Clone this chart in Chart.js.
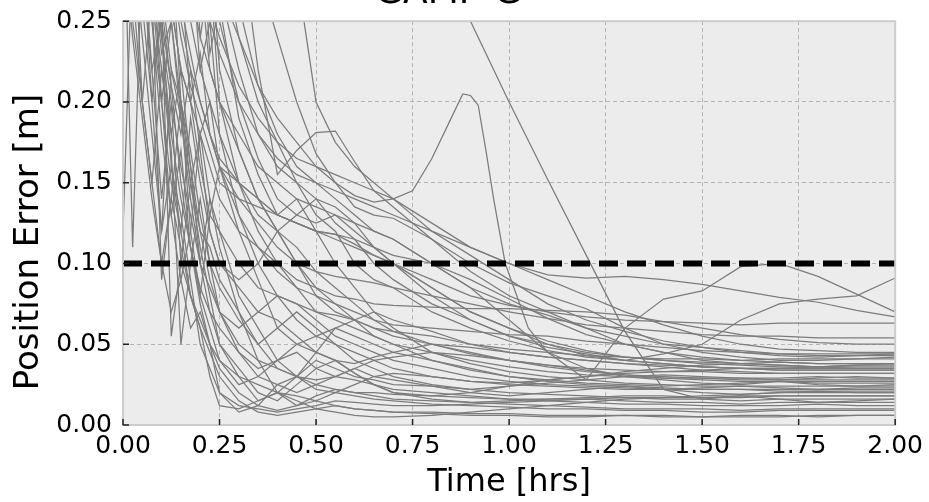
<!DOCTYPE html>
<html>
<head>
<meta charset="utf-8">
<script src="https://cdn.jsdelivr.net/npm/chart.js@4/dist/chart.umd.min.js"></script>
<style>
  html, body { margin: 0; padding: 0; background: #fff; overflow: hidden; }
  #wrap { position: relative; width: 929px; height: 502px; overflow: hidden; }
  #errChart { position: absolute; left: 0; top: -28px; }
</style>
</head>
<body>
<div id="wrap"><canvas id="errChart" width="929" height="530"></canvas></div>
<script>
// time grid shared by most runs [hrs]
const times = [0, 0.025, 0.05, 0.075, 0.1, 0.125, 0.15, 0.175, 0.2, 0.225, 0.25,
    0.3, 0.35, 0.4, 0.45, 0.5, 0.55, 0.6, 0.65, 0.7, 0.8,
    0.9, 1.0, 1.1, 1.2, 1.3, 1.4, 1.5, 1.6, 1.7, 1.8, 1.9, 2.0]

// the run with the late peak has its own, finer sampling
const timesB = [0, 0.05, 0.1, 0.15, 0.2, 0.25, 0.3, 0.35, 0.4, 0.45, 0.5, 0.55, 0.6, 0.65, 0.7,
    0.75, 0.8, 0.85, 0.88, 0.9, 0.92, 0.94, 0.96, 0.99, 1.05, 1.1, 1.2, 1.3, 1.4, 1.5, 1.6, 1.7, 1.8, 1.9, 2.0]

const threshold = 0.1
const xTicks = [0, 0.25, 0.5, 0.75, 1.0, 1.25, 1.5, 1.75, 2.0]
const yTicks = [0, 0.05, 0.1, 0.15, 0.2, 0.25]
const yTitle = 'Position Error [m]'

// position error per run [m]
const runA = [0.6, 0.6, 0.58, 0.57, 0.55, 0.54, 0.52, 0.5, 0.49, 0.48, 0.47,
    0.45, 0.43, 0.42, 0.4, 0.39, 0.38, 0.36, 0.35, 0.34, 0.31,
    0.25, 0.2, 0.152, 0.105, 0.058, 0.022, 0.016, 0.018, 0.016, 0.014, 0.015, 0.016]
const runB = [0.5, 0.45, 0.38, 0.33, 0.3, 0.27, 0.24, 0.21, 0.19, 0.175, 0.16, 0.15, 0.142, 0.138, 0.14,
    0.145, 0.165, 0.19, 0.205, 0.204, 0.198, 0.17, 0.14, 0.1, 0.06, 0.045, 0.035, 0.03, 0.028, 0.026,
    0.025, 0.027, 0.025, 0.024, 0.025]
const runC = [0.7, 0.66, 0.63, 0.6, 0.57, 0.55, 0.52, 0.5, 0.48, 0.46, 0.44,
    0.4, 0.36, 0.32, 0.28, 0.2, 0.175, 0.16, 0.15, 0.14, 0.12,
    0.105, 0.09, 0.075, 0.065, 0.058, 0.052, 0.048, 0.045, 0.043, 0.042, 0.043, 0.044]
const runD = [0.6, 0.56, 0.52, 0.5, 0.47, 0.45, 0.43, 0.41, 0.39, 0.37, 0.35,
    0.32, 0.28, 0.24, 0.2, 0.168, 0.15, 0.135, 0.13, 0.128, 0.115,
    0.095, 0.08, 0.07, 0.06, 0.05, 0.045, 0.04, 0.038, 0.037, 0.036, 0.037, 0.038]
const runE = [0.6, 0.55, 0.52, 0.48, 0.45, 0.42, 0.4, 0.38, 0.36, 0.34, 0.33,
    0.31, 0.22, 0.155, 0.17, 0.181, 0.182, 0.163, 0.145, 0.135, 0.115,
    0.1, 0.088, 0.08, 0.072, 0.06, 0.05, 0.045, 0.042, 0.04, 0.04, 0.041, 0.042]
const runF = [0.6, 0.5, 0.54, 0.42, 0.46, 0.36, 0.38, 0.3, 0.32, 0.26, 0.24,
    0.21, 0.19, 0.175, 0.165, 0.16, 0.155, 0.15, 0.145, 0.14, 0.125,
    0.11, 0.1, 0.093, 0.091, 0.092, 0.09, 0.087, 0.083, 0.079, 0.076, 0.071, 0.067]
const runG = [0.55, 0.42, 0.48, 0.36, 0.4, 0.3, 0.33, 0.26, 0.28, 0.22, 0.2,
    0.18, 0.16, 0.15, 0.14, 0.135, 0.13, 0.125, 0.12, 0.115, 0.1,
    0.085, 0.065, 0.045, 0.028, 0.06, 0.078, 0.083, 0.098, 0.1, 0.092, 0.081, 0.07]
const runH = [0.5, 0.38, 0.44, 0.3, 0.34, 0.25, 0.28, 0.2, 0.23, 0.18, 0.165,
    0.15, 0.14, 0.13, 0.125, 0.12, 0.118, 0.112, 0.105, 0.1, 0.085,
    0.07, 0.06, 0.05, 0.043, 0.04, 0.044, 0.05, 0.065, 0.075, 0.078, 0.08, 0.091]
const run09 = [0.35, 0.11, 0.3, 0.22, 0.14, 0.2, 0.1, 0.08, 0.06, 0.03, 0.012,
    0.01, 0.015, 0.02, 0.018, 0.015, 0.012, 0.01, 0.009, 0.008, 0.007,
    0.006, 0.006, 0.005, 0.005, 0.006, 0.005, 0.005, 0.006, 0.006, 0.005, 0.006, 0.006]
const run10 = [0.4, 0.3, 0.26, 0.2, 0.12, 0.16, 0.13, 0.09, 0.05, 0.035, 0.02,
    0.008, 0.012, 0.025, 0.03, 0.022, 0.02, 0.018, 0.016, 0.015, 0.013,
    0.012, 0.011, 0.01, 0.01, 0.009, 0.009, 0.008, 0.008, 0.009, 0.009, 0.009, 0.009]
const run11 = [0.45, 0.32, 0.2, 0.27, 0.09, 0.14, 0.2, 0.12, 0.08, 0.06, 0.04,
    0.025, 0.03, 0.04, 0.045, 0.035, 0.03, 0.028, 0.025, 0.022, 0.02,
    0.018, 0.016, 0.015, 0.014, 0.013, 0.013, 0.012, 0.012, 0.012, 0.013, 0.012, 0.012]
const run12 = [0.5, 0.4, 0.3, 0.2, 0.26, 0.055, 0.1, 0.15, 0.11, 0.08, 0.05,
    0.03, 0.015, 0.02, 0.03, 0.04, 0.035, 0.03, 0.028, 0.025, 0.024,
    0.022, 0.02, 0.019, 0.018, 0.017, 0.016, 0.016, 0.015, 0.016, 0.016, 0.016, 0.016]
const run13 = [0.3, 0.27, 0.2, 0.15, 0.22, 0.17, 0.05, 0.1, 0.14, 0.1, 0.07,
    0.045, 0.03, 0.025, 0.02, 0.025, 0.03, 0.035, 0.03, 0.028, 0.024,
    0.02, 0.018, 0.02, 0.022, 0.024, 0.022, 0.02, 0.019, 0.02, 0.021, 0.02, 0.02]
const run14 = [0.45, 0.38, 0.31, 0.25, 0.2, 0.13, 0.09, 0.12, 0.18, 0.14, 0.11,
    0.07, 0.04, 0.02, 0.012, 0.015, 0.02, 0.025, 0.03, 0.032, 0.03,
    0.027, 0.025, 0.024, 0.023, 0.022, 0.022, 0.023, 0.024, 0.023, 0.022, 0.023, 0.023]
const run15 = [0.6, 0.5, 0.4, 0.3, 0.24, 0.18, 0.22, 0.16, 0.1, 0.14, 0.12,
    0.08, 0.06, 0.04, 0.03, 0.045, 0.06, 0.055, 0.05, 0.045, 0.04,
    0.035, 0.03, 0.028, 0.026, 0.025, 0.024, 0.025, 0.026, 0.027, 0.026, 0.026, 0.026]
const run16 = [0.5, 0.45, 0.35, 0.3, 0.25, 0.21, 0.15, 0.11, 0.08, 0.13, 0.16,
    0.12, 0.09, 0.06, 0.05, 0.055, 0.05, 0.04, 0.035, 0.03, 0.025,
    0.022, 0.024, 0.026, 0.028, 0.03, 0.031, 0.03, 0.029, 0.028, 0.029, 0.03, 0.029]
const run17 = [0.35, 0.3, 0.24, 0.18, 0.12, 0.22, 0.19, 0.14, 0.1, 0.07, 0.05,
    0.035, 0.02, 0.015, 0.025, 0.035, 0.04, 0.038, 0.042, 0.045, 0.05,
    0.048, 0.045, 0.042, 0.04, 0.038, 0.036, 0.034, 0.033, 0.032, 0.032, 0.032, 0.032]
const run18 = [0.55, 0.45, 0.38, 0.3, 0.2, 0.25, 0.2, 0.17, 0.13, 0.1, 0.085,
    0.065, 0.05, 0.06, 0.07, 0.06, 0.05, 0.045, 0.04, 0.035, 0.03,
    0.027, 0.026, 0.028, 0.03, 0.032, 0.033, 0.034, 0.035, 0.035, 0.036, 0.035, 0.035]
const run19 = [0.4, 0.35, 0.28, 0.22, 0.25, 0.16, 0.12, 0.19, 0.15, 0.12, 0.1,
    0.085, 0.07, 0.065, 0.055, 0.045, 0.04, 0.032, 0.025, 0.02, 0.018,
    0.02, 0.024, 0.028, 0.03, 0.033, 0.035, 0.037, 0.038, 0.039, 0.038, 0.038, 0.038]
const run20 = [0.6, 0.52, 0.45, 0.38, 0.3, 0.26, 0.22, 0.2, 0.16, 0.13, 0.12,
    0.1, 0.085, 0.08, 0.075, 0.07, 0.068, 0.065, 0.06, 0.058, 0.055,
    0.05, 0.047, 0.045, 0.043, 0.042, 0.041, 0.041, 0.04, 0.041, 0.041, 0.041, 0.041]
const run21 = [0.5, 0.42, 0.36, 0.3, 0.27, 0.22, 0.2, 0.15, 0.18, 0.2, 0.16,
    0.13, 0.11, 0.095, 0.085, 0.08, 0.075, 0.07, 0.065, 0.062, 0.06,
    0.058, 0.056, 0.055, 0.052, 0.05, 0.048, 0.046, 0.045, 0.044, 0.044, 0.044, 0.044]
const run22 = [0.7, 0.6, 0.5, 0.42, 0.35, 0.3, 0.26, 0.23, 0.2, 0.18, 0.16,
    0.14, 0.125, 0.11, 0.1, 0.095, 0.092, 0.09, 0.088, 0.085, 0.08,
    0.075, 0.07, 0.066, 0.062, 0.06, 0.058, 0.056, 0.055, 0.055, 0.054, 0.054, 0.054]
const run23 = [0.65, 0.55, 0.48, 0.4, 0.33, 0.28, 0.24, 0.21, 0.19, 0.17, 0.15,
    0.14, 0.135, 0.13, 0.125, 0.12, 0.115, 0.11, 0.105, 0.1, 0.09,
    0.08, 0.074, 0.07, 0.067, 0.065, 0.064, 0.063, 0.062, 0.063, 0.063, 0.063, 0.063]
const run24 = [0.3, 0.25, 0.2, 0.15, 0.1, 0.07, 0.09, 0.06, 0.07, 0.05, 0.02,
    0.012, 0.01, 0.008, 0.01, 0.012, 0.015, 0.014, 0.013, 0.012, 0.012,
    0.013, 0.014, 0.015, 0.016, 0.015, 0.014, 0.014, 0.013, 0.014, 0.014, 0.014, 0.014]
const run25 = [0.35, 0.28, 0.34, 0.25, 0.18, 0.13, 0.17, 0.11, 0.075, 0.05, 0.035,
    0.02, 0.012, 0.009, 0.012, 0.018, 0.022, 0.02, 0.018, 0.016, 0.015,
    0.014, 0.015, 0.016, 0.017, 0.018, 0.018, 0.017, 0.018, 0.018, 0.018, 0.018, 0.018]
const run26 = [0.5, 0.4, 0.33, 0.27, 0.22, 0.18, 0.14, 0.11, 0.085, 0.07, 0.06,
    0.045, 0.035, 0.04, 0.05, 0.045, 0.04, 0.032, 0.025, 0.02, 0.016,
    0.014, 0.013, 0.012, 0.011, 0.01, 0.01, 0.01, 0.009, 0.01, 0.01, 0.01, 0.01]
const run27 = [0.6, 0.55, 0.5, 0.45, 0.4, 0.35, 0.3, 0.27, 0.24, 0.22, 0.2,
    0.17, 0.14, 0.12, 0.1, 0.085, 0.075, 0.065, 0.06, 0.055, 0.05,
    0.045, 0.04, 0.037, 0.034, 0.031, 0.029, 0.028, 0.027, 0.027, 0.027, 0.027, 0.027]
const run28 = [0.55, 0.5, 0.44, 0.4, 0.34, 0.3, 0.27, 0.25, 0.22, 0.2, 0.18,
    0.15, 0.13, 0.12, 0.13, 0.14, 0.135, 0.125, 0.11, 0.1, 0.08,
    0.065, 0.055, 0.048, 0.044, 0.04, 0.038, 0.036, 0.035, 0.035, 0.035, 0.035, 0.035]
const run29 = [0.65, 0.6, 0.52, 0.46, 0.4, 0.36, 0.32, 0.3, 0.27, 0.25, 0.23,
    0.2, 0.18, 0.165, 0.155, 0.15, 0.145, 0.14, 0.135, 0.13, 0.12,
    0.11, 0.1, 0.09, 0.08, 0.07, 0.062, 0.055, 0.05, 0.047, 0.046, 0.045, 0.045]
const run30 = [0.4, 0.34, 0.28, 0.3, 0.24, 0.2, 0.16, 0.13, 0.1, 0.085, 0.07,
    0.06, 0.07, 0.08, 0.075, 0.065, 0.055, 0.05, 0.045, 0.04, 0.035,
    0.03, 0.027, 0.025, 0.024, 0.023, 0.022, 0.022, 0.022, 0.022, 0.022, 0.022, 0.022]
const run31 = [0.45, 0.38, 0.3, 0.33, 0.26, 0.21, 0.18, 0.22, 0.17, 0.12, 0.1,
    0.09, 0.1, 0.12, 0.1, 0.08, 0.07, 0.065, 0.055, 0.05, 0.045,
    0.04, 0.036, 0.033, 0.031, 0.03, 0.029, 0.029, 0.029, 0.029, 0.03, 0.029, 0.029]
const run32 = [0.5, 0.42, 0.36, 0.29, 0.23, 0.25, 0.19, 0.15, 0.12, 0.11, 0.09,
    0.07, 0.05, 0.035, 0.03, 0.028, 0.03, 0.035, 0.04, 0.042, 0.045,
    0.043, 0.04, 0.037, 0.035, 0.034, 0.033, 0.033, 0.032, 0.032, 0.032, 0.032, 0.032]
const run33 = [0.3, 0.24, 0.19, 0.14, 0.1, 0.14, 0.11, 0.08, 0.065, 0.05, 0.04,
    0.03, 0.025, 0.02, 0.015, 0.01, 0.008, 0.006, 0.005, 0.005, 0.006,
    0.008, 0.01, 0.012, 0.014, 0.016, 0.017, 0.018, 0.019, 0.02, 0.02, 0.02, 0.02]
const run34 = [0.6, 0.5, 0.45, 0.38, 0.32, 0.28, 0.25, 0.22, 0.2, 0.18, 0.16,
    0.15, 0.14, 0.13, 0.125, 0.12, 0.118, 0.115, 0.11, 0.105, 0.1,
    0.09, 0.078, 0.066, 0.056, 0.05, 0.045, 0.042, 0.04, 0.039, 0.038, 0.038, 0.038]
const run35 = [0.55, 0.48, 0.4, 0.35, 0.3, 0.26, 0.22, 0.2, 0.18, 0.16, 0.14,
    0.12, 0.11, 0.1, 0.09, 0.085, 0.08, 0.078, 0.075, 0.074, 0.073,
    0.072, 0.072, 0.071, 0.07, 0.068, 0.064, 0.06, 0.056, 0.053, 0.051, 0.05, 0.05]
const run36 = [0.4, 0.3, 0.35, 0.27, 0.2, 0.15, 0.12, 0.08, 0.06, 0.045, 0.03,
    0.015, 0.008, 0.006, 0.008, 0.01, 0.012, 0.01, 0.009, 0.008, 0.008,
    0.007, 0.007, 0.006, 0.006, 0.006, 0.006, 0.005, 0.005, 0.005, 0.006, 0.006, 0.006]
const run37 = [0.12, 0.3, 0.4, 0.32, 0.25, 0.3, 0.2, 0.16, 0.12, 0.09, 0.07,
    0.05, 0.04, 0.035, 0.03, 0.025, 0.022, 0.02, 0.02, 0.019, 0.018,
    0.017, 0.016, 0.016, 0.016, 0.017, 0.017, 0.017, 0.017, 0.018, 0.018, 0.018, 0.018]
const run38 = [0.6, 0.5, 0.42, 0.5, 0.38, 0.45, 0.33, 0.4, 0.3, 0.34, 0.27,
    0.22, 0.18, 0.16, 0.15, 0.13, 0.12, 0.1, 0.09, 0.085, 0.07,
    0.06, 0.052, 0.046, 0.042, 0.04, 0.038, 0.036, 0.035, 0.034, 0.034, 0.034, 0.034]
const run39 = [0.5, 0.45, 0.55, 0.4, 0.47, 0.35, 0.42, 0.3, 0.36, 0.27, 0.3,
    0.24, 0.2, 0.175, 0.15, 0.14, 0.125, 0.115, 0.1, 0.09, 0.075,
    0.065, 0.055, 0.05, 0.045, 0.042, 0.04, 0.039, 0.038, 0.037, 0.036, 0.036, 0.036]
const run40 = [0.45, 0.55, 0.4, 0.48, 0.33, 0.4, 0.28, 0.34, 0.25, 0.3, 0.22,
    0.17, 0.14, 0.12, 0.11, 0.095, 0.085, 0.075, 0.065, 0.058, 0.05,
    0.044, 0.04, 0.036, 0.033, 0.031, 0.03, 0.029, 0.028, 0.028, 0.028, 0.028, 0.028]
const run41 = [0.55, 0.48, 0.42, 0.36, 0.45, 0.3, 0.38, 0.26, 0.32, 0.23, 0.26,
    0.19, 0.155, 0.13, 0.14, 0.12, 0.1, 0.085, 0.07, 0.06, 0.045,
    0.038, 0.033, 0.03, 0.028, 0.026, 0.025, 0.024, 0.024, 0.024, 0.024, 0.024, 0.024]
const run42 = [0.65, 0.55, 0.6, 0.5, 0.42, 0.48, 0.38, 0.42, 0.33, 0.36, 0.3,
    0.26, 0.21, 0.18, 0.16, 0.15, 0.14, 0.13, 0.12, 0.115, 0.1,
    0.085, 0.075, 0.068, 0.06, 0.055, 0.05, 0.048, 0.046, 0.044, 0.043, 0.043, 0.043]
const run43 = [0.5, 0.42, 0.48, 0.36, 0.3, 0.38, 0.27, 0.33, 0.24, 0.28, 0.2,
    0.15, 0.12, 0.1, 0.085, 0.07, 0.065, 0.06, 0.055, 0.05, 0.04,
    0.034, 0.03, 0.027, 0.025, 0.024, 0.023, 0.022, 0.022, 0.021, 0.021, 0.021, 0.021]
const run44 = [0.4, 0.5, 0.35, 0.42, 0.3, 0.36, 0.26, 0.3, 0.22, 0.25, 0.18,
    0.13, 0.1, 0.08, 0.065, 0.055, 0.06, 0.065, 0.07, 0.065, 0.058,
    0.05, 0.045, 0.042, 0.04, 0.038, 0.037, 0.036, 0.035, 0.034, 0.034, 0.034, 0.034]
const run45 = [0.6, 0.52, 0.45, 0.52, 0.4, 0.46, 0.35, 0.38, 0.3, 0.33, 0.25,
    0.2, 0.165, 0.14, 0.13, 0.125, 0.13, 0.12, 0.11, 0.1, 0.085,
    0.07, 0.06, 0.052, 0.046, 0.042, 0.04, 0.038, 0.037, 0.036, 0.036, 0.037, 0.037]

const gridRuns = [runA, runC, runD, runE, runF, runG, runH, run09, run10, run11, run12, run13,
    run14, run15, run16, run17, run18, run19, run20, run21, run22, run23, run24, run25,
    run26, run27, run28, run29, run30, run31, run32, run33, run34, run35, run36, run37,
    run38, run39, run40, run41, run42, run43, run44, run45]

const runLine = (ts, vals) => ({
    data: vals.map((v, i) => ({ x: ts[i], y: v })),
    borderColor: '#7c7c7c',
    borderWidth: 1.25,
    pointRadius: 0,
    order: 1,
})

const datasets = [
    {
        data: [{ x: xTicks[0], y: threshold }, { x: xTicks[xTicks.length - 1], y: threshold }],
        borderColor: '#000',
        borderWidth: 6,
        borderDash: [19, 9],
        pointRadius: 0,
        order: 0,
    },
    ...gridRuns.map(r => runLine(times, r)),
    runLine(timesB, runB),
]

// grey plot face, light frame, short inward ticks and the y label
const axesFace = {
    id: 'axesFace',
    beforeDraw(chart) {
        const { ctx, chartArea: a } = chart
        ctx.save()
        ctx.fillStyle = '#ececec'
        ctx.fillRect(a.left, a.top, a.right - a.left, a.bottom - a.top)
        ctx.restore()
    },
    afterDraw(chart) {
        const { ctx, chartArea: a, scales } = chart
        ctx.save()
        ctx.strokeStyle = '#cccccc'
        ctx.lineWidth = 2
        ctx.strokeRect(a.left, a.top, a.right - a.left, a.bottom - a.top)
        ctx.strokeStyle = '#222'
        ctx.lineWidth = 1.5
        ctx.beginPath()
        xTicks.forEach(t => {
            const x = scales.x.getPixelForValue(t)
            ctx.moveTo(x, a.bottom)
            ctx.lineTo(x, a.bottom - 6)
        })
        yTicks.forEach(t => {
            const y = scales.y.getPixelForValue(t)
            ctx.moveTo(a.left, y)
            ctx.lineTo(a.left + 6, y)
        })
        ctx.stroke()

        // y label sits a little below the axis middle in the original
        ctx.translate(29, (a.top + a.bottom) / 2 + 19)
        ctx.rotate(-Math.PI / 2)
        ctx.font = '34px "DejaVu Sans"'
        ctx.fillStyle = '#000'
        ctx.textAlign = 'center'
        ctx.textBaseline = 'middle'
        ctx.fillText(yTitle, 0, 0)
        ctx.restore()
    },
}

const ctx = document.querySelector('#errChart').getContext('2d')

const errChart = new Chart(ctx, {
    type: 'line',
    data: { datasets },
    plugins: [axesFace],
    options: {
        responsive: false,
        animation: false,
        layout: { padding: { left: 0, right: 32, top: 0, bottom: 0 } },
        elements: { line: { tension: 0 } },
        plugins: {
            legend: { display: false },
            tooltip: { enabled: false },
            title: {
                display: true,
                text: 'GAMP-G',
                color: '#000',
                font: { family: 'DejaVu Sans', size: 36, weight: 'normal' },
                padding: { top: 0, bottom: 6 },
            },
        },
        scales: {
            x: {
                type: 'linear',
                min: 0,
                max: 2,
                afterBuildTicks: s => { s.ticks = xTicks.map(v => ({ value: v })) },
                afterFit: s => { s.height = 77 },
                ticks: {
                    autoSkip: false,
                    maxRotation: 0,
                    padding: 6,
                    color: '#000',
                    font: { family: 'DejaVu Sans', size: 25 },
                    callback: v => v.toFixed(2),
                },
                grid: { color: '#b4b4b4', lineWidth: 1, drawTicks: false },
                border: { display: false, dash: [4, 3] },
                title: {
                    display: true,
                    text: 'Time [hrs]',
                    color: '#000',
                    font: { family: 'DejaVu Sans', size: 32 },
                    padding: { top: 0, bottom: 0 },
                },
            },
            y: {
                type: 'linear',
                min: 0,
                max: 0.25,
                afterBuildTicks: s => { s.ticks = yTicks.map(v => ({ value: v })) },
                afterFit: s => { s.width = 123 },
                ticks: {
                    padding: 11,
                    color: '#000',
                    font: { family: 'DejaVu Sans', size: 25 },
                    callback: v => v.toFixed(2),
                },
                grid: { color: '#b4b4b4', lineWidth: 1, drawTicks: false },
                border: { display: false, dash: [4, 3] },
            },
        },
    },
})
</script>
</body>
</html>
